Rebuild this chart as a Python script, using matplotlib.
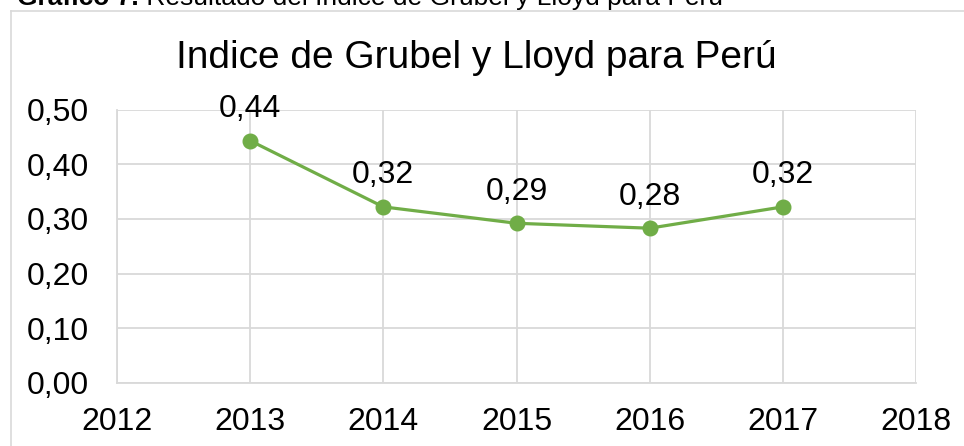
import matplotlib
matplotlib.use("Agg")
import matplotlib.pyplot as plt
from matplotlib.lines import Line2D

plt.rcParams['font.family'] = ['Liberation Sans', 'DejaVu Sans']

years = [2013, 2014, 2015, 2016, 2017]
values = [0.443, 0.322, 0.292, 0.283, 0.322]
labels = ["0,44", "0,32", "0,29", "0,28", "0,32"]
xticks = [2012, 2013, 2014, 2015, 2016, 2017, 2018]
yticks = [0.0, 0.1, 0.2, 0.3, 0.4, 0.5]
ytick_labels = ["0,00", "0,10", "0,20", "0,30", "0,40", "0,50"]
title = "Indice de Grubel y Lloyd para Perú"
caption_bold = "Gráfico 7."
caption_rest = " Resultado del Indice de Grubel y Lloyd para Perú"

W, H = 964, 446
fig = plt.figure(figsize=(W / 100, H / 100), dpi=100)

def fx(px):
    return px / W

def fy(py):
    return 1 - py / H

green = "#70AD47"
grid = "#D9D9D9"

# outer chart border (top and left visible)
fig.add_artist(Line2D([fx(10.5), fx(W + 5)], [fy(10.5), fy(10.5)], color=grid, lw=1.2, transform=fig.transFigure))
fig.add_artist(Line2D([fx(10.5), fx(10.5)], [fy(10.5), fy(H + 5)], color=grid, lw=1.2, transform=fig.transFigure))

# caption (partially cut at top, as in the reference)
t1 = fig.text(fx(17), fy(5), caption_bold, fontsize=19, fontweight='bold', va='baseline', ha='left')
fig.canvas.draw()
bb = t1.get_window_extent()
fig.text(bb.x1 / W, fy(5), caption_rest, fontsize=19, va='baseline', ha='left')

ax = fig.add_axes([fx(117), fy(383), fx(916) - fx(117), fy(109.5) - fy(383)])
ax.plot(years, values, color=green, lw=2.3, marker='o', ms=10.5, zorder=3, clip_on=False)
for x, v, l in zip(years, values, labels):
    ax.annotate(l, (x, v), xytext=(0, 17), textcoords='offset points', ha='center', va='baseline', fontsize=23)

ax.set_xlim(2012, 2018)
ax.set_ylim(0, 0.5)
ax.set_xticks(xticks)
ax.set_xticklabels([str(x) for x in xticks])
ax.set_yticks(yticks)
ax.set_yticklabels(ytick_labels)
ax.tick_params(axis='both', length=0, labelsize=23, colors='black')
ax.tick_params(axis='y', pad=20)
ax.tick_params(axis='x', pad=17)
ax.grid(True, color=grid, lw=1.3)
ax.set_axisbelow(True)
for s in ax.spines.values():
    s.set_visible(False)
ax.spines['left'].set_visible(True)
ax.spines['bottom'].set_visible(True)
ax.spines['left'].set_color(grid)
ax.spines['bottom'].set_color(grid)
ax.spines['left'].set_linewidth(1.3)
ax.spines['bottom'].set_linewidth(1.3)

fig.text(fx(476), fy(68), title, fontsize=28, ha='center', va='baseline')

fig.savefig("out.png", dpi=100)
